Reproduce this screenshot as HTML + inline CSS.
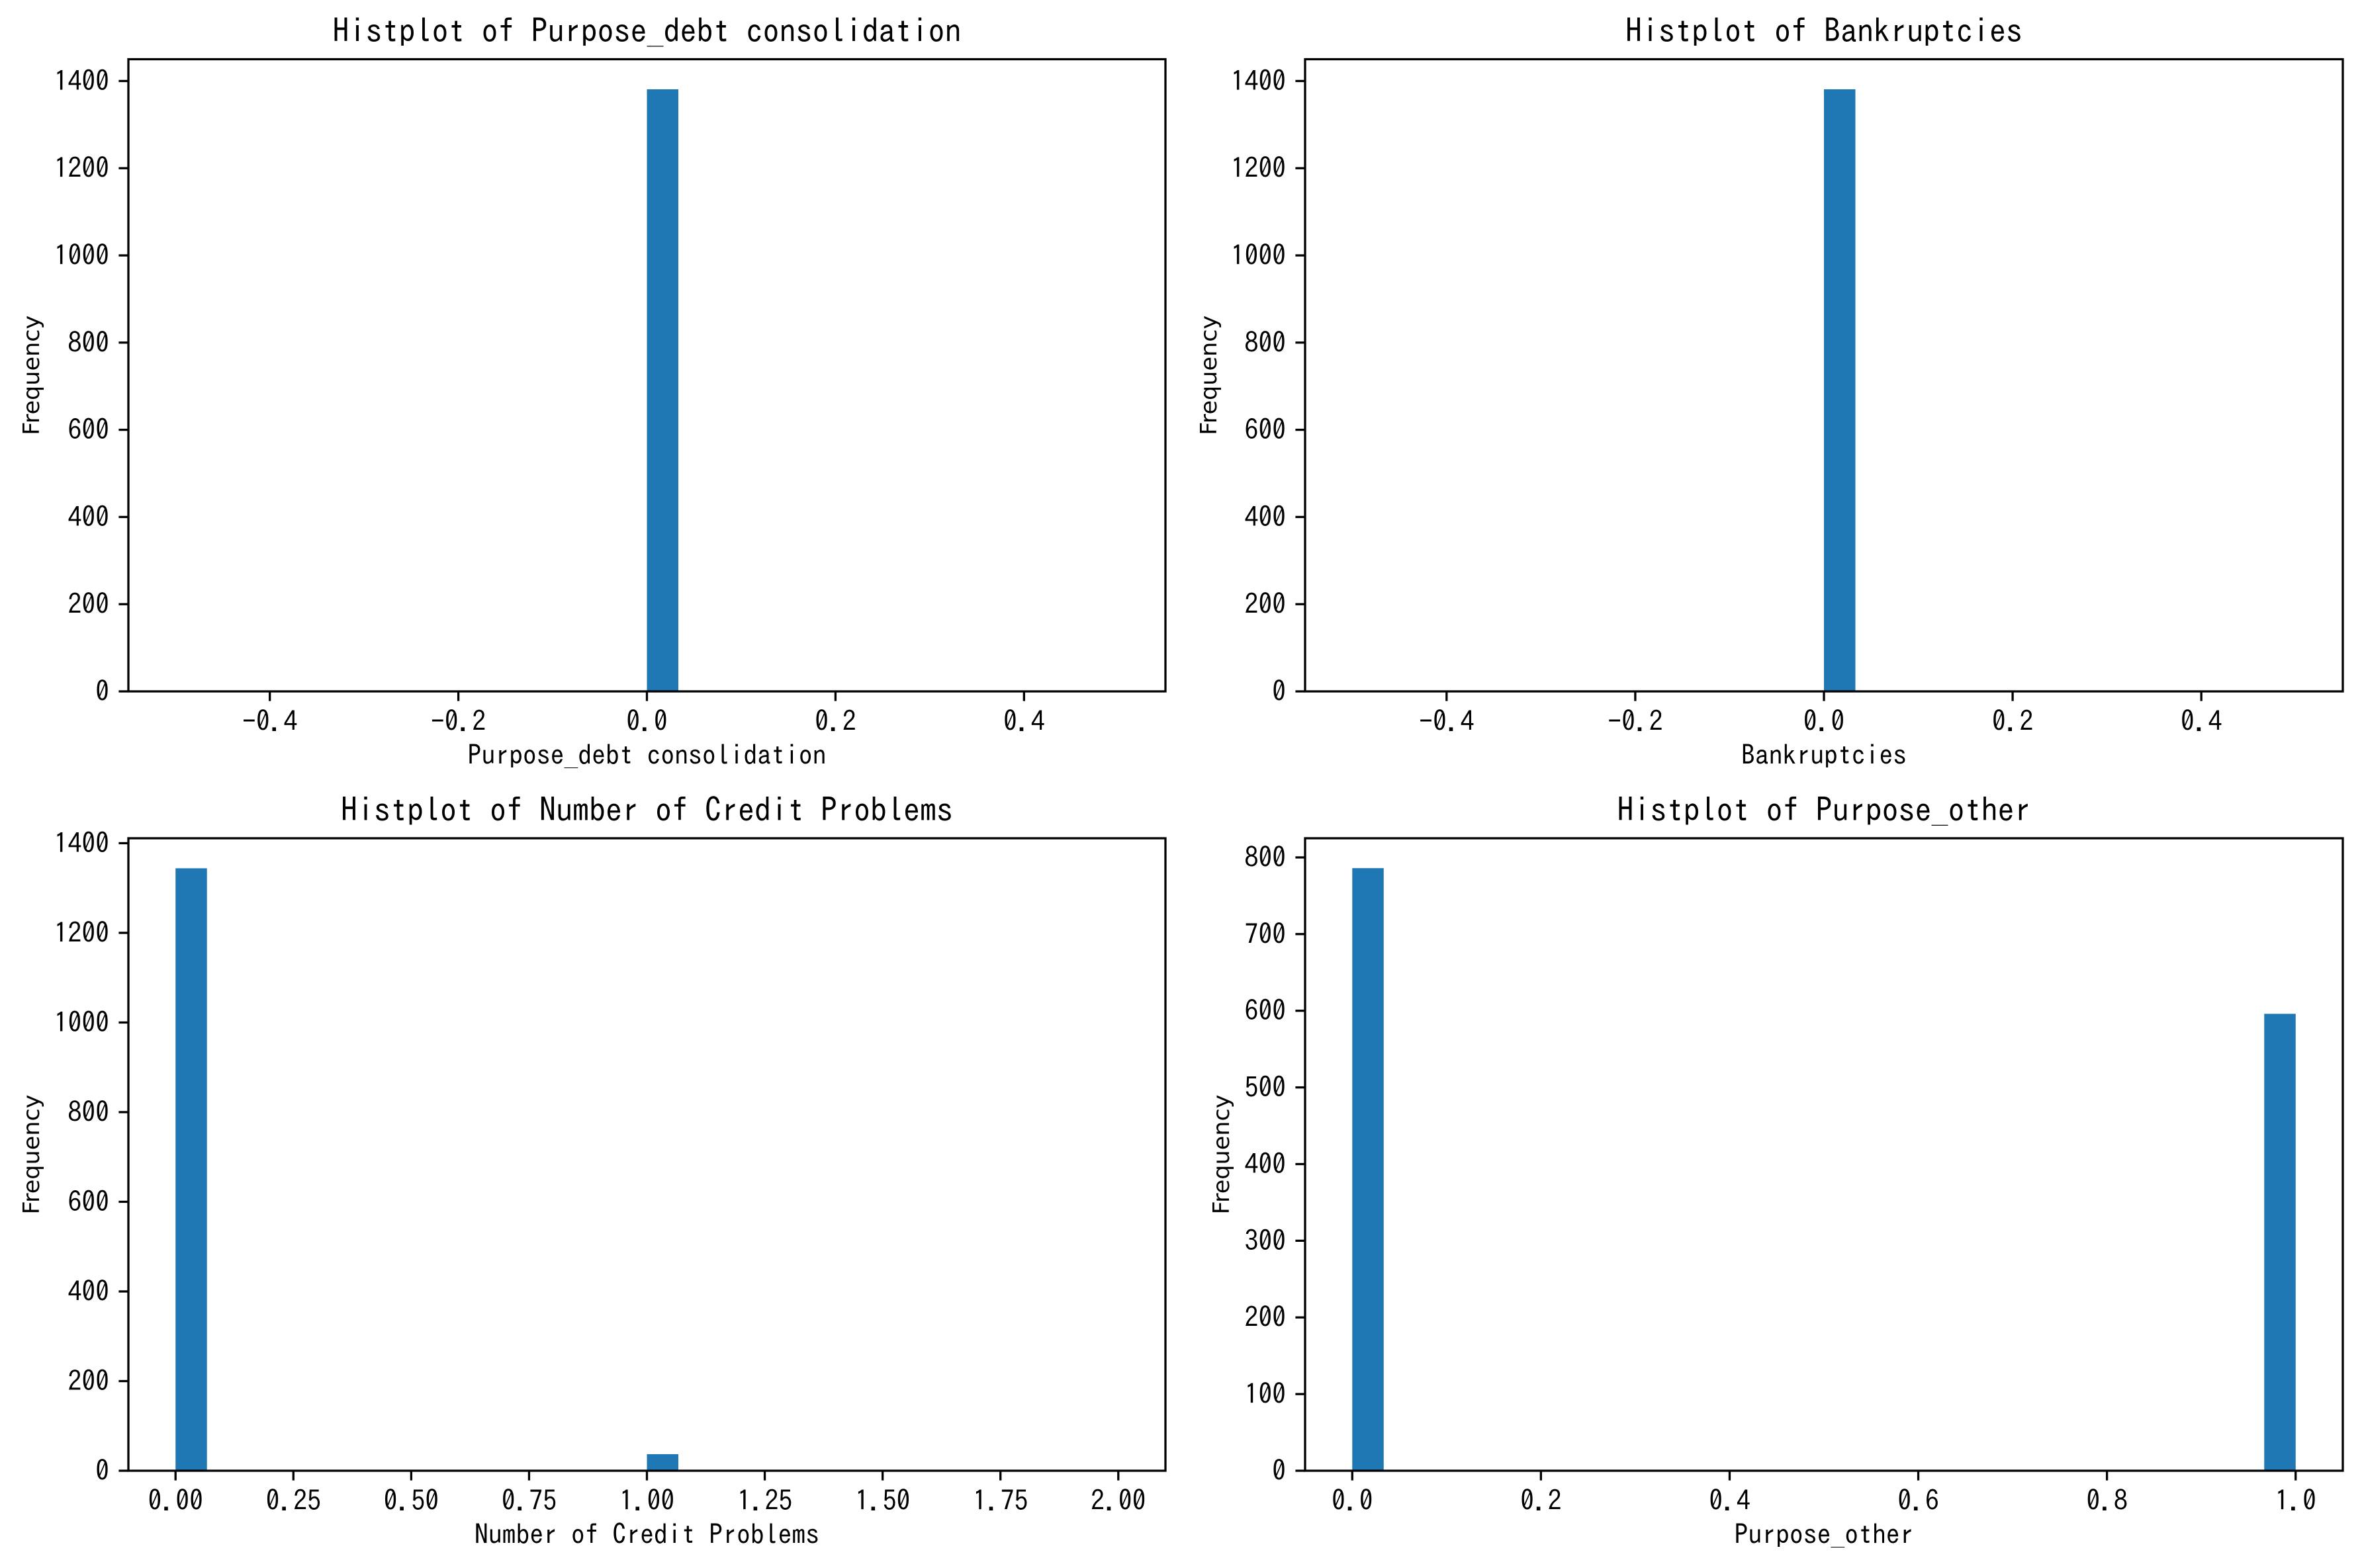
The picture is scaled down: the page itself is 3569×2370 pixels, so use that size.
<!DOCTYPE html>
<html><head><meta charset="utf-8">
<style>
html,body{margin:0;padding:0;background:#fff;}
svg{display:block;}
text{font-family:"IPAGothic","WenQuanYi Zen Hei","Liberation Mono",monospace;fill:#000;}
.ylab{font-family:"DejaVu Sans","Liberation Sans",sans-serif;}
</style></head>
<body>
<svg id="chart" width="3569" height="2370" viewBox="0 0 3569 2370" xmlns="http://www.w3.org/2000/svg"></svg>
<script>
// Panel data
const titles = ["Histplot of Purpose_debt consolidation","Histplot of Bankruptcies","Histplot of Number of Credit Problems","Histplot of Purpose_other"];
const xLabels = ["Purpose_debt consolidation","Bankruptcies","Number of Credit Problems","Purpose_other"];
const binStarts0 = [0];
const counts0 = [1381];
const binStarts1 = [0];
const counts1 = [1381];
const binStarts2 = [0, 1];
const counts2 = [1344, 37];
const binStarts3 = [0, 0.9667];
const counts3 = [786, 596];
const binWidths = [1/30, 1/30, 2/30, 1/30];
const xDomains = [[-0.55,0.55],[-0.55,0.55],[-0.1,2.1],[-0.05,1.05]];
const yMaxes = [1450, 1450, 1411, 825];
const xTicks0 = ["-0.4","-0.2","0.0","0.2","0.4"];
const xTicks2 = ["0.00","0.25","0.50","0.75","1.00","1.25","1.50","1.75","2.00"];
const xTicks3 = ["0.0","0.2","0.4","0.6","0.8","1.0"];
const yTicks0 = [0,200,400,600,800,1000,1200,1400];
const yTicks3 = [0,100,200,300,400,500,600,700,800];

const NS = "http://www.w3.org/2000/svg";
const svg = document.getElementById("chart");
function el(tag, attrs, parent){
  const e = document.createElementNS(NS, tag);
  for (const k in attrs) e.setAttribute(k, attrs[k]);
  parent.appendChild(e);
  return e;
}
const boxes = [
  {x0:194, x1:1761, y0:89.5, y1:1045},
  {x0:1972, x1:3540, y0:89.5, y1:1045},
  {x0:194, x1:1761, y0:1267, y1:2223},
  {x0:1972, x1:3540, y0:1267, y1:2223}
];
const binStarts = [binStarts0, binStarts1, binStarts2, binStarts3];
const counts = [counts0, counts1, counts2, counts3];
const xTicks = [xTicks0, xTicks0, xTicks2, xTicks3];
const yTicks = [yTicks0, yTicks0, yTicks0, yTicks3];

for (let p = 0; p < 4; p++) {
  const b = boxes[p];
  const g = el("g", {}, svg);
  
  
  const [d0, d1] = xDomains[p];
  const xs = v => b.x0 + (v - d0) / (d1 - d0) * (b.x1 - b.x0);
  const ys = v => b.y1 - v / yMaxes[p] * (b.y1 - b.y0);
  // bars
  for (let i = 0; i < counts[p].length; i++) {
    const xa = xs(binStarts[p][i]), xb = xs(binStarts[p][i] + binWidths[p]);
    const r = el("rect", {x: xa, y: ys(counts[p][i]), width: xb - xa, height: ys(0) - ys(counts[p][i]), fill: "#1f77b4"}, g);
    
    
  }
  // frame
  const fr = el("rect", {x: b.x0, y: b.y0, width: b.x1 - b.x0, height: b.y1 - b.y0, fill: "none", stroke: "#000", "stroke-width": 3.3}, g);
  
  
  // x ticks
  for (const t of xTicks[p]) {
    const x = xs(parseFloat(t));
    el("line", {x1: x, x2: x, y1: b.y1, y2: b.y1 + 14.6, stroke: "#000", "stroke-width": 3.3}, g);
    const tx = el("text", {x: x, y: b.y1 + 60, "font-size": 41.7, "text-anchor": "middle"}, g);
    tx.textContent = t;
    
    
  }
  // y ticks
  for (const v of yTicks[p]) {
    const y = ys(v);
    el("line", {x1: b.x0 - 14.6, x2: b.x0, y1: y, y2: y, stroke: "#000", "stroke-width": 3.3}, g);
    const ty = el("text", {x: b.x0 - 29, y: y + 15, "font-size": 41.7, "text-anchor": "end"}, g);
    ty.textContent = String(v);
    
    
  }
  // title
  const tt = el("text", {x: (b.x0 + b.x1) / 2, y: b.y0 - 25, "font-size": 50, "text-anchor": "middle"}, g);
  tt.textContent = titles[p];
  
  
  // x label
  const xl = el("text", {x: (b.x0 + b.x1) / 2, y: b.y1 + 111, "font-size": 41.7, "text-anchor": "middle"}, g);
  xl.textContent = xLabels[p];
  
  
  // y label
  const lx = (p === 3) ? b.x0 - 115 : (p === 1 ? b.x0 - 134 : b.x0 - 135);
  const cy = (b.y0 + b.y1) / 2;
  const yl = el("text", {x: lx, y: cy, "font-size": 34, "text-anchor": "middle", class: "ylab", transform: "rotate(-90 " + lx + " " + cy + ")", textLength: 181, lengthAdjust: "spacingAndGlyphs"}, g);
  yl.textContent = "Frequency";
  
  
}
</script>
</body></html>
